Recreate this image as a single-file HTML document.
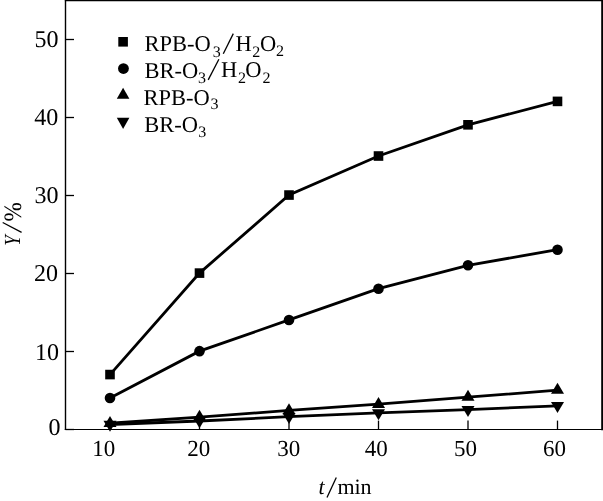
<!DOCTYPE html>
<html><head><meta charset="utf-8"><style>
html,body{margin:0;padding:0;background:#fff;}
body{width:603px;height:501px;overflow:hidden;}
svg{display:block;will-change:transform;}
text{font-family:"Liberation Serif",serif;fill:#000;text-rendering:geometricPrecision;}
</style></head><body>
<svg width="603" height="501" viewBox="0 0 603 501">
<line x1="65.50" y1="0.00" x2="65.50" y2="430.10" stroke="#000" stroke-width="1.4"/>
<line x1="64.80" y1="429.50" x2="603.00" y2="429.50" stroke="#000" stroke-width="1.2"/>
<line x1="602.10" y1="0.00" x2="602.10" y2="430.20" stroke="#000" stroke-width="1.8"/>
<line x1="64.85" y1="0.55" x2="603.00" y2="0.55" stroke="#000" stroke-width="1.2"/>
<line x1="65.50" y1="429.50" x2="74.00" y2="429.50" stroke="#000" stroke-width="1.3"/>
<line x1="65.50" y1="351.50" x2="74.00" y2="351.50" stroke="#000" stroke-width="1.3"/>
<line x1="65.50" y1="273.50" x2="74.00" y2="273.50" stroke="#000" stroke-width="1.3"/>
<line x1="65.50" y1="195.50" x2="74.00" y2="195.50" stroke="#000" stroke-width="1.3"/>
<line x1="65.50" y1="117.50" x2="74.00" y2="117.50" stroke="#000" stroke-width="1.3"/>
<line x1="65.50" y1="39.50" x2="74.00" y2="39.50" stroke="#000" stroke-width="1.3"/>
<line x1="110.00" y1="429.50" x2="110.00" y2="420.60" stroke="#000" stroke-width="1.3"/>
<line x1="199.50" y1="429.50" x2="199.50" y2="420.60" stroke="#000" stroke-width="1.3"/>
<line x1="289.00" y1="429.50" x2="289.00" y2="420.60" stroke="#000" stroke-width="1.3"/>
<line x1="378.50" y1="429.50" x2="378.50" y2="420.60" stroke="#000" stroke-width="1.3"/>
<line x1="468.00" y1="429.50" x2="468.00" y2="420.60" stroke="#000" stroke-width="1.3"/>
<line x1="557.50" y1="429.50" x2="557.50" y2="420.60" stroke="#000" stroke-width="1.3"/>
<polyline points="110.00,374.56 199.50,273.10 289.00,195.05 378.50,156.02 468.00,124.81 557.50,101.39" fill="none" stroke="#000" stroke-width="2.8" stroke-linejoin="miter"/>
<polyline points="110.00,397.98 199.50,351.15 289.00,319.93 378.50,288.71 468.00,265.29 557.50,249.69" fill="none" stroke="#000" stroke-width="2.8" stroke-linejoin="miter"/>
<polyline points="110.00,423.27 199.50,417.10 289.00,410.47 378.50,404.22 468.00,397.20 557.50,390.18" fill="none" stroke="#000" stroke-width="2.8" stroke-linejoin="miter"/>
<polyline points="110.00,424.52 199.50,421.00 289.00,416.71 378.50,412.97 468.00,409.69 557.50,405.78" fill="none" stroke="#000" stroke-width="2.8" stroke-linejoin="miter"/>
<rect x="105.20" y="369.76" width="9.6" height="9.6"/>
<rect x="194.70" y="268.30" width="9.6" height="9.6"/>
<rect x="284.20" y="190.25" width="9.6" height="9.6"/>
<rect x="373.70" y="151.22" width="9.6" height="9.6"/>
<rect x="463.20" y="120.01" width="9.6" height="9.6"/>
<rect x="552.70" y="96.59" width="9.6" height="9.6"/>
<circle cx="110.00" cy="397.98" r="5.3"/>
<circle cx="199.50" cy="351.15" r="5.3"/>
<circle cx="289.00" cy="319.93" r="5.3"/>
<circle cx="378.50" cy="288.71" r="5.3"/>
<circle cx="468.00" cy="265.29" r="5.3"/>
<circle cx="557.50" cy="249.69" r="5.3"/>
<polygon points="110.00,415.93 116.50,426.93 103.50,426.93"/>
<polygon points="199.50,409.77 206.00,420.77 193.00,420.77"/>
<polygon points="289.00,403.13 295.50,414.13 282.50,414.13"/>
<polygon points="378.50,396.89 385.00,407.89 372.00,407.89"/>
<polygon points="468.00,389.87 474.50,400.87 461.50,400.87"/>
<polygon points="557.50,382.84 564.00,393.84 551.00,393.84"/>
<polygon points="110.00,431.85 116.50,420.85 103.50,420.85"/>
<polygon points="199.50,428.34 206.00,417.34 193.00,417.34"/>
<polygon points="289.00,424.05 295.50,413.05 282.50,413.05"/>
<polygon points="378.50,420.30 385.00,409.30 372.00,409.30"/>
<polygon points="468.00,417.02 474.50,406.02 461.50,406.02"/>
<polygon points="557.50,413.12 564.00,402.12 551.00,402.12"/>
<text x="34.42" y="46.75" font-size="24">50</text>
<text x="34.30" y="124.65" font-size="24">40</text>
<text x="34.48" y="202.55" font-size="24">30</text>
<text x="34.00" y="280.65" font-size="24">20</text>
<text x="34.88" y="359.65" font-size="24">10</text>
<text x="48.42" y="434.55" font-size="24">0</text>
<text x="92.30" y="455.50" font-size="23">10</text>
<text x="187.30" y="455.50" font-size="23">20</text>
<text x="277.20" y="455.50" font-size="23">30</text>
<text x="364.70" y="455.50" font-size="23">40</text>
<text x="454.00" y="455.50" font-size="23">50</text>
<text x="543.10" y="455.50" font-size="23">60</text>
<rect x="118.3" y="37.0" width="9.6" height="9.6"/>
<circle cx="123.45" cy="68.55" r="5.4"/>
<polygon points="123.1,87.8 129.4,98.8 116.8,98.8"/>
<polygon points="123.1,128.9 129.4,117.7 116.8,117.7"/>
<text x="144.38" y="51.00" font-size="22.5">RPB-O</text>
<text x="212.85" y="56.90" font-size="16">3</text>
<line x1="223.30" y1="53.70" x2="233.30" y2="33.60" stroke="#000" stroke-width="1.3"/>
<text x="235.50" y="50.90" font-size="22.5">H</text>
<text x="252.15" y="56.50" font-size="16">2</text>
<text x="260.10" y="51.20" font-size="22.5">O</text>
<text x="276.05" y="56.30" font-size="16">2</text>
<text x="144.58" y="77.60" font-size="22.5">BR-O</text>
<text x="197.90" y="82.80" font-size="16">3</text>
<line x1="208.20" y1="79.90" x2="218.90" y2="59.30" stroke="#000" stroke-width="1.3"/>
<text x="221.00" y="77.00" font-size="22.5">H</text>
<text x="237.90" y="83.00" font-size="16">2</text>
<text x="245.30" y="76.90" font-size="22.5">O</text>
<text x="262.50" y="82.70" font-size="16">2</text>
<text x="143.58" y="104.50" font-size="22.5">RPB-O</text>
<text x="210.45" y="108.80" font-size="16">3</text>
<text x="144.30" y="131.60" font-size="22.5">BR-O</text>
<text x="198.15" y="136.80" font-size="16">3</text>
<text x="318.50" y="493.80" font-size="22" font-style="italic">t</text>
<line x1="327.00" y1="497.50" x2="336.30" y2="477.40" stroke="#000" stroke-width="1.3"/>
<text x="337.40" y="493.80" font-size="22">min</text>
<g transform="translate(19.8,245.25) rotate(-90)"><text transform="scale(0.82,1)" x="-0.5" y="0.2" font-size="23" font-style="italic">Y</text><text transform="scale(0.93,1)" x="25.5" y="0.9" font-size="25">%</text></g>
<line x1="2.70" y1="222.50" x2="21.60" y2="232.40" stroke="#000" stroke-width="1.3"/>
</svg></body></html>
